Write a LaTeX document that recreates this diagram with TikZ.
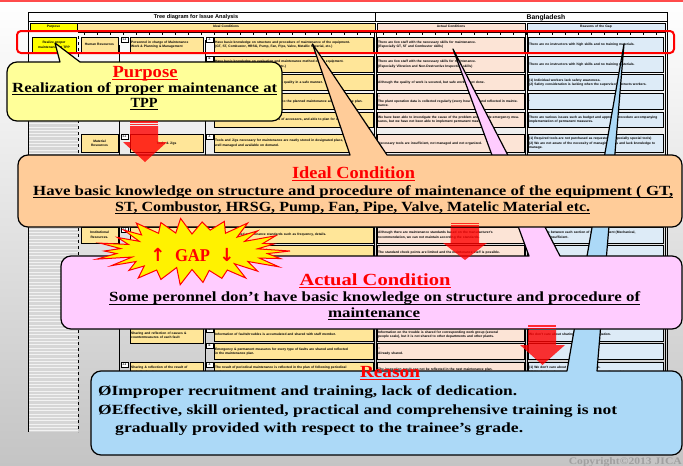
\documentclass[tikz,border=0pt]{standalone}
\usepackage{fontspec}
\usepackage{graphicx}
\setmainfont{Liberation Serif}
\newfontfamily\tblfont{Liberation Sans}
\newfontfamily\symfont{DejaVu Sans}

\definecolor{bggray}{HTML}{C4C4C4}
\definecolor{bgmid}{HTML}{EAEAEA}
\definecolor{topred}{HTML}{FF4B4B}
\definecolor{stripegray}{HTML}{D6D6D6}
\definecolor{cY}{HTML}{FFFF00}
\definecolor{cI}{HTML}{FFE699}
\definecolor{cA}{HTML}{FCE4D6}
\definecolor{cR}{HTML}{DDEBF7}
\definecolor{purposefill}{HTML}{FFFF99}
\definecolor{idealfill}{HTML}{FFCC99}
\definecolor{actualfill}{HTML}{FFCCFF}
\definecolor{reasonfill}{HTML}{ACD9F7}
\definecolor{headred}{HTML}{FF0000}
\definecolor{arrowred}{HTML}{FF0000}
\definecolor{copygray}{HTML}{A0A0A0}

\tikzset{
  cellbox/.style={draw=black, line width=0.45pt},
  celltxt/.style={inner sep=0pt, anchor=west, align=left,
    font=\tblfont\bfseries\fontsize{3.3}{4.6}\selectfont},
  ccelltxt/.style={inner sep=0pt, align=center,
    font=\tblfont\bfseries\fontsize{3.3}{4.6}\selectfont},
  calloutline/.style={draw=black, line width=1.2pt, line join=round},
  headtxt/.style={inner sep=0pt, anchor=base, text=headred,
    font=\bfseries\fontsize{17}{20}\selectfont},
  bodytxt/.style={inner sep=0pt, font=\bfseries\fontsize{14}{17}\selectfont},
  blockarrow/.style={fill=arrowred, fill opacity=0.8, draw=none},
  gapstar/.style={fill=yellow, draw=red, line width=1pt, line join=miter},
}

% stretch a line of text horizontally to a given width (in pt)
\newcommand\fitto[2]{\resizebox{#1pt}{\height}{#2}}
% underline a text node
\newcommand\uln[2]{\draw[line width=0.9pt,#2] ([yshift=-2.7pt]#1.base west) -- ([yshift=-2.7pt]#1.base east);}

% table cell: name, x1, y1, x2, y2, fill, text (left aligned)
\newcommand\cell[7]{%
  \pgfmathsetmacro\cellw{#4-#2-2}%
  \draw[cellbox, fill=#6] (#2,#3) rectangle (#4,#5);
  \node[celltxt, text width=\cellw pt] (#1) at ({#2+1},{(#3+#5)/2}) {#7};}
% table cell with centred text
\newcommand\ccell[7]{%
  \pgfmathsetmacro\cellw{#4-#2-2}%
  \draw[cellbox, fill=#6] (#2,#3) rectangle (#4,#5);
  \node[ccelltxt, text width=\cellw pt] (#1) at ({(#2+#4)/2},{(#3+#5)/2}) {#7};}
% small numbering label: name, x, y, text
\newcommand\lbl[4]{%
  \draw[cellbox, fill=white, line width=0.35pt] (#2,#3) rectangle ({#2+7},{#3+5});
  \node[ccelltxt, font=\tblfont\bfseries\fontsize{2.6}{3}\selectfont] (#1) at ({#2+3.5},{#3+2.5}) {#4};}

% rounded callout with a pointer on its top edge:
% fill, x1, y1, x2, y2, pointer base a, pointer base b, tip x, tip y
\newcommand\callout[9]{%
  \filldraw[calloutline, fill=#1]
    ({#2+10},#3) -- (#6,#3) -- (#8,#9) -- (#7,#3) -- ({#4-10},#3)
    arc[start angle=-90, end angle=0, radius=10] -- (#4,{#5-10})
    arc[start angle=0, end angle=90, radius=10] -- ({#2+10},#5)
    arc[start angle=90, end angle=180, radius=10] -- (#2,{#3+10})
    arc[start angle=180, end angle=270, radius=10] -- cycle;}

% striped block arrow pointing down: stem x1, stem x2, top, head top, head x1, head x2, tip y
\newcommand\blockdown[7]{%
  \fill[blockarrow] (#1,#3) rectangle (#2,{#3+1.5});
  \fill[blockarrow] (#1,{#3+2.6}) rectangle (#2,{#3+4.1});
  \fill[blockarrow] (#1,{#3+5.2}) -- (#2,{#3+5.2}) -- (#2,#4) -- (#6,#4)
    -- ({(#5+#6)/2},#7) -- (#5,#4) -- (#1,#4) -- cycle;}

\begin{document}
\begin{tikzpicture}[x=1pt,y=-1pt]
\useasboundingbox (0,0) rectangle (683,466);

% ---------- slide background ----------
\shade[top color=white, middle color=bgmid, bottom color=bggray] (0,0) rectangle (683,466);
\fill[topred] (0,0) rectangle (683,1.6);

% grey striped margin of the sheet
\fill[stripegray] (28,122) rectangle (78,432);
\foreach \yy in {123.5,126.8,...,431} \draw[white, line width=0.6pt, opacity=0.7] (28,\yy) -- (78,\yy);
\draw[dashed, line width=0.4pt] (78,30) -- (78,432);
\draw[line width=0.4pt] (28,12) -- (28,432);

% ---------- sheet frame and headings ----------
\draw[line width=0.8pt] (29,12) -- (667,12);
\draw[line width=0.5pt] (29,21.5) -- (667,21.5);
\draw[line width=0.5pt] (375,12) -- (375,21.5);
\draw[line width=0.5pt] (667,12) -- (667,380);
\node[inner sep=0pt, font=\tblfont\bfseries\fontsize{5.6}{6}\selectfont] (ttl) at (196,17) {Tree diagram for Issue Analysis};
\node[inner sep=0pt, font=\tblfont\bfseries\fontsize{6.8}{7}\selectfont] (ctry) at (546,17.5) {Bangladesh};

\ccell{hP}{30}{23.5}{77}{30}{cY}{Purpose}
\ccell{hI}{77}{23.5}{375}{30}{cI}{Ideal Conditions}
\ccell{hA}{377}{23.5}{525}{30}{cA}{Actual Conditions}
\ccell{hR}{527}{23.5}{665}{30}{cR}{Reasons of the Gap}

% grid ticks under the header
\draw[line width=0.4pt] (78,32.5) -- (665,32.5);
\foreach \xx in {84,97,...,660} \draw[line width=0.4pt] (\xx,32.5) -- (\xx,35);

% column separators
\foreach \xx in {374.6,376.6,525.2,527.2,664.8} \draw[line width=0.45pt] (\xx,30) -- (\xx,380);
\draw[line width=0.45pt] (119.5,45) -- (119.5,380);
\draw[line width=0.45pt] (204.8,40) -- (204.8,380);

% ---------- rows ----------
% row 1
\ccell{p1}{32}{37}{76}{52.5}{cY}{Realize proper\\maintenance at TPP}
\ccell{k1}{81}{37}{118}{52.5}{cI}{Human Resources}
\lbl{n11}{121}{37}{1-1}
\cell{t11}{130}{37}{203}{52.5}{cI}{Personnel in charge of Maintenance\\Work \& Planning \& Management}
\lbl{l1}{206}{37}{A}
\cell{i1}{214}{37}{373}{52.5}{cI}{Have basic knowledge on structure and procedure of maintenance of the equipment.\\(GT, ST, Combustor, HRSG, Pump, Fan, Pipe, Valve, Metallic Material, etc.)}
\cell{a1}{377}{37}{524}{52.5}{cA}{There are few staff with the necessary skills for maintenance.\\(Especially GT, ST and Combustor skills)}
\cell{r1}{528}{37}{663}{52.5}{cR}{There are no instructors with high skills and no training materials.}

% row 2
\lbl{l2}{206}{56}{B}
\cell{i2}{214}{56}{373}{72.5}{cI}{Have basic knowledge on evaluation and maintenance method of the equipment.\\(Especially Vibration Analysis, Welding, etc.)}
\cell{a2}{377}{56}{524}{72.5}{cA}{There are few staff with the necessary skills for maintenance.\\(Especially Vibration and Non-Destructive Inspection skills)}
\cell{r2}{528}{56}{663}{72.5}{cR}{There are no instructors with high skills and no training materials.}

% row 3
\lbl{l3}{206}{74.5}{C}
\cell{i3}{214}{74.5}{373}{90.5}{cI}{Be able to perform maintenance work with quality in a safe manner.}
\cell{a3}{377}{74.5}{524}{90.5}{cA}{Although the quality of work is secured, but safe work is not done.}
\cell{r3}{528}{74.5}{663}{90.5}{cR}{(1) Individual workers lack safety awareness.\\(2) Safety consideration is lacking when the supervisor instructs workers.}

% row 4
\lbl{l4}{206}{93}{D}
\cell{i4}{214}{93}{373}{109.5}{cI}{Be able to reflect the plant operation data to the planned maintenance according to the plan.}
\cell{a4}{377}{93}{524}{109.5}{cA}{○\\The plant operation data is collected regularly (every hour etc.) and reflected in maintenance.}
\cell{r4}{528}{93}{663}{109.5}{cR}{-}

% row 5
\lbl{l5}{206}{112}{E}
\cell{i5}{214}{112}{373}{127.5}{cI}{Be able to investigate causes of troubles of accessors, and able to plan for countermeasures.}
\cell{a5}{377}{112}{524}{127.5}{cA}{We have been able to investigate the cause of the problem and provide emergency measures, but we have not been able to implement permanent measures.}
\cell{r5}{528}{112}{663}{127.5}{cR}{There are various issues such as budget and approval procedure accompanying implementation of permanent measures.}

% row 6
\ccell{k2}{81}{134}{118}{152.5}{cI}{Material\\Resources}
\lbl{n21}{121}{134}{2-1}
\ccell{t21}{130}{134}{203}{152.5}{cI}{Tools \& Jigs}
\lbl{l6}{206}{134}{A}
\cell{i6}{214}{134}{373}{152.5}{cI}{Tools and Jigs necessary for maintenance are neatly stored in designated place,\\well managed and available on demand.}
\cell{a6}{377}{134}{524}{152.5}{cA}{Necessary tools are insufficient, not managed and not organized.}
\cell{r6}{528}{134}{663}{152.5}{cR}{(1) Required tools are not purchased as requested. (Especially special tools)\\(2) We are not aware of the necessity of managing tools and lack knowledge to manage.}

% row 7
\ccell{k3}{81}{227}{118}{243}{cI}{Institutional\\Resources.}
\lbl{n31}{121}{227}{3-1}
\draw[cellbox, fill=cI] (130,227) rectangle (203,243);
\draw[cellbox, fill=white, line width=0.35pt] (206,227) rectangle (213,232);
\cell{i7}{214}{227}{373}{243}{cI}{Have standardized maintenance standards such as frequency, details.}
\cell{a7}{377}{227}{524}{243}{cA}{Although there are maintenance standards based on the manufacturer's\\recommendation, we can not maintain according the standards.}
\cell{r7}{528}{227}{663}{243}{cR}{Coordination between each section of the department (Mechanical,\\Electrical) is insufficient.}

% row 8
\draw[cellbox, fill=white, line width=0.35pt] (206,245) rectangle (213,250);
\cell{i8}{214}{245}{373}{256.5}{cI}{Clarify the standard checked points.}
\cell{a8}{377}{245}{524}{256.5}{cA}{○\\The standard check points are limited and the maintenance staff is possible.}
\cell{r8}{528}{245}{663}{256.5}{cR}{}

% row 9
\cell{t41}{130}{327.5}{203}{343}{cI}{Sharing and reflection of causes \&\\countermeasures of each fault}
\lbl{l9}{206}{327.5}{A}
\cell{i9}{214}{327.5}{373}{341.5}{cI}{Information of faults/troubles is accumulated and shared with staff member.}
\cell{a9}{377}{327.5}{524}{341.5}{cA}{Information on the trouble is shared for corresponding work group (several\\people scale), but it is not shared to other departments and other plants.}
\cell{r9}{528}{327.5}{663}{341.5}{cR}{We don't care about sharing of trouble information.}

% row 10
\lbl{l10}{206}{343.5}{B}
\cell{i10}{214}{343.5}{373}{359.5}{cI}{Emergency \& permanent measures for every type of faults are shared and reflected\\in the maintenance plan.}
\cell{a10}{377}{343.5}{524}{359.5}{cA}{○\\Already shared.}
\cell{r10}{528}{343.5}{663}{359.5}{cR}{}

% row 11
\lbl{n42}{121}{362}{4-2}
\cell{t42}{130}{362}{203}{378}{cI}{Sharing \& reflection of the result of\\periodical maintenance}
\lbl{l11}{206}{362}{A}
\cell{i11}{214}{362}{373}{378}{cI}{The result of periodical maintenance is reflected in the plan of following periodical\\maintenance.}
\cell{a11}{377}{362}{524}{378}{cA}{The inspection result can not be reflected in the next maintenance plan.}
\cell{r11}{528}{362}{663}{378}{cR}{(1) We don't care about the inspection items.\\(2) We don't understand the importance of preventive maintenance.}

% highlighted first row
\draw[red, line width=2pt, rounded corners=4pt] (17,31) rectangle (674,53);

% ---------- callouts ----------
\callout{purposefill}{7}{62}{282}{121}{60}{80}{55}{43}
\callout{reasonfill}{91}{371}{682}{455}{567}{597}{624}{44}
\callout{actualfill}{61}{256}{682}{329}{529}{560}{453}{49}
\callout{idealfill}{18}{155}{682}{227}{350}{387}{312.5}{44}

% ---------- block arrows ----------
\blockdown{130}{158}{121}{142}{123}{167}{162}
\blockdown{450.5}{479}{222.5}{243}{443}{487}{260}
\blockdown{528}{556}{325}{345}{520}{565}{365}

% ---------- gap burst ----------
\begin{scope}[shift={(192,251)}]
\filldraw[gapstar] (0:98 and 34)
  \foreach \k in {1,...,25}
  { -- ({(\k-0.5)*360/26}:{64+4*mod(\k*3,4)} and {17+1.5*mod(\k*3,4)})
    -- ({\k*360/26}:{98*(0.86+0.035*mod(\k*7,5))} and {34*(0.86+0.035*mod(\k*7,5))}) }
  -- ({25.5*360/26}:66 and 18) -- cycle;
\end{scope}
\node[inner sep=0pt, anchor=base, text=headred, font=\symfont\bfseries\fontsize{18}{20}\selectfont] (gapup) at (158,261) {↑};
\node[inner sep=0pt, anchor=base, text=headred, font=\bfseries\fontsize{18}{20}\selectfont] (gap) at (192.5,261) {\fitto{35}{GAP}};
\node[inner sep=0pt, anchor=base, text=headred, font=\symfont\bfseries\fontsize{18}{20}\selectfont] (gapdown) at (227,261) {↓};

% ---------- callout texts ----------
\node[headtxt] (hpur) at (145,77) {\fitto{65}{Purpose}};
\uln{hpur}{headred}
\node[bodytxt, anchor=base west] (pur1) at (12,92) {\fitto{265}{Realization of proper maintenance at}};
\uln{pur1}{black}
\node[bodytxt, anchor=base] (pur2) at (144,107) {\fitto{27}{TPP}};
\uln{pur2}{black}

\node[headtxt] (hide) at (353.5,178) {\fitto{123}{Ideal Condition}};
\uln{hide}{headred}
\node[bodytxt, anchor=base west] (ide1) at (33,195) {\fitto{640}{Have basic knowledge on structure and procedure of maintenance of the equipment ( GT,}};
\uln{ide1}{black}
\node[bodytxt, anchor=base west] (ide2) at (115,211) {\fitto{475}{ST, Combustor, HRSG, Pump, Fan, Pipe, Valve, Matelic Material etc.}};
\uln{ide2}{black}

\node[headtxt] (hact) at (375,285) {\fitto{151}{Actual Condition}};
\uln{hact}{headred}
\node[bodytxt, anchor=base west] (act1) at (109,301.5) {\fitto{531}{Some peronnel don’t have basic knowledge on structure and procedure of}};
\uln{act1}{black}
\node[bodytxt, anchor=base] (act2) at (374,317) {\fitto{92}{maintenance}};
\uln{act2}{black}

\node[headtxt] (hrea) at (390,377) {\fitto{60}{Reason}};
\uln{hrea}{headred}
\node[bodytxt, anchor=base west] (rea1) at (98,395) {\fitto{419}{ØImproper recruitment and training, lack of dedication.}};
\node[bodytxt, anchor=base west] (rea2) at (98,414) {\fitto{519}{ØEffective, skill oriented, practical and comprehensive training is not}};
\node[bodytxt, anchor=base west] (rea3) at (115,432) {\fitto{408}{gradually provided with respect to the trainee’s grade.}};

\node[inner sep=0pt, anchor=base east, text=copygray, font=\bfseries\fontsize{10}{12}\selectfont] (copy) at (682,464) {\fitto{113}{Copyright©2013 JICA}};
\end{tikzpicture}
\end{document}
